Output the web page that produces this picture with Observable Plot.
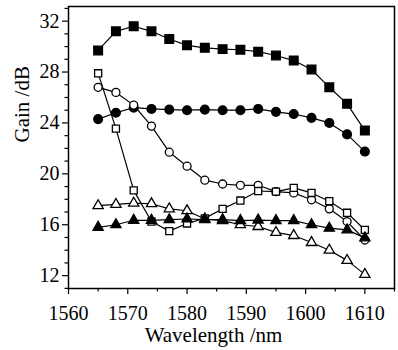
<!DOCTYPE html>
<html>
<head>
<meta charset="utf-8">
<script src="https://cdn.jsdelivr.net/npm/d3@7"></script>
<script src="https://cdn.jsdelivr.net/npm/@observablehq/plot@0.6"></script>
<style>
  html, body { margin: 0; padding: 0; background: #fff; }
  #chart svg, #chart svg text { font-family: "Liberation Serif", serif !important; }
</style>
</head>
<body>
<div id="chart"></div>
<script>
const wavelength = [1565, 1568, 1571, 1574, 1577, 1580, 1583, 1586, 1589, 1592, 1595, 1598, 1601, 1604, 1607, 1610];
const filledSquare = [29.7, 31.2, 31.6, 31.2, 30.6, 30.1, 29.9, 29.8, 29.75, 29.6, 29.3, 28.9, 28.2, 26.8, 25.5, 23.4];
const filledCircle = [24.3, 24.8, 25.2, 25.1, 25.05, 25.0, 25.05, 25.0, 25.0, 25.1, 24.87, 24.7, 24.4, 24.0, 23.1, 21.75];
const openCircle = [26.8, 26.4, 25.4, 23.75, 21.7, 20.6, 19.5, 19.2, 19.1, 19.1, 18.6, 18.5, 17.96, 17.25, 16.25, 14.8];
const openSquare = [27.9, 23.55, 18.7, 16.25, 15.5, 16.1, 16.5, 17.25, 17.9, 18.65, 18.6, 18.9, 18.5, 17.85, 16.94, 15.6];
const openTriangle = [17.5, 17.6, 17.7, 17.65, 17.25, 17.1, 16.45, 16.33, 16.0, 15.86, 15.4, 15.15, 14.6, 14.0, 13.2, 12.1];
const filledTriangle = [15.8, 16.0, 16.35, 16.35, 16.4, 16.45, 16.4, 16.4, 16.33, 16.37, 16.33, 16.33, 16.0, 15.73, 15.6, 14.97];

const xMajorTicks = [1560, 1570, 1580, 1590, 1600, 1610];
const xMinorTicks = [1565, 1575, 1585, 1595, 1605, 1615];
const yMajorTicks = [12, 16, 20, 24, 28, 32];
const yMinorTicks = [11, 13, 14, 15, 17, 18, 19, 21, 22, 23, 25, 26, 27, 29, 30, 31, 33];
const xLabel = "Wavelength /nm";
const yLabel = "Gain /dB";

const seriesDefs = [
  {values: filledSquare, symbol: "square", fill: "black", r: 4.9},
  {values: filledCircle, symbol: "circle", fill: "black", r: 4.4},
  {values: openCircle, symbol: "circle", fill: "white", r: 4.0},
  {values: openSquare, symbol: "square", fill: "white", r: 4.0},
  {values: openTriangle, symbol: "triangle", fill: "white", r: 3.8},
  {values: filledTriangle, symbol: "triangle", fill: "black", r: 3.8}
];

const toRows = (vals) => wavelength.map((w, i) => ({w, g: vals[i]}));

const lineMarks = seriesDefs.map(s =>
  Plot.line(toRows(s.values), {x: "w", y: "g", stroke: "black", strokeWidth: 1.2})
);
const dotMarks = seriesDefs.map(s =>
  Plot.dot(toRows(s.values), {x: "w", y: "g", symbol: () => s.symbol, r: s.r,
    fill: s.fill, stroke: "black", strokeWidth: 1.3})
);

const chart = Plot.plot({
  width: 398,
  height: 350,
  marginLeft: 68,
  marginRight: 4,
  marginTop: 6,
  marginBottom: 62,
  style: {fontFamily: "Liberation Serif, serif", fontSize: "20px", color: "black", background: "white"},
  x: {domain: [1560, 1615], label: null},
  y: {domain: [10.99, 33.15], label: null},
  symbol: {type: "identity"},
  marks: [
    Plot.axisX({ticks: xMajorTicks, tickSize: 6, tickPadding: 11, tickFormat: d => String(d), label: null, strokeWidth: 1.2}),
    Plot.axisX({ticks: xMinorTicks, tickSize: 3.5, tickFormat: () => "", label: null, strokeWidth: 1.2}),
    Plot.axisY({ticks: yMajorTicks, tickSize: 6, tickPadding: 3, tickFormat: d => String(d), label: null, strokeWidth: 1.2}),
    Plot.axisY({ticks: yMinorTicks, tickSize: 3.5, tickFormat: () => "", label: null, strokeWidth: 1.2}),
    ...lineMarks,
    ...dotMarks,
    Plot.frame({stroke: "black", strokeWidth: 1.5}),
    Plot.text([xLabel], {frameAnchor: "bottom", text: d => d, dy: 47, dx: -18, lineAnchor: "middle", fontSize: 21}),
    Plot.text([yLabel], {frameAnchor: "left", text: d => d, rotate: -90, dx: -46, dy: -5, lineAnchor: "middle", fontSize: 21})
  ]
});
document.getElementById("chart").appendChild(chart);
</script>
</body>
</html>
